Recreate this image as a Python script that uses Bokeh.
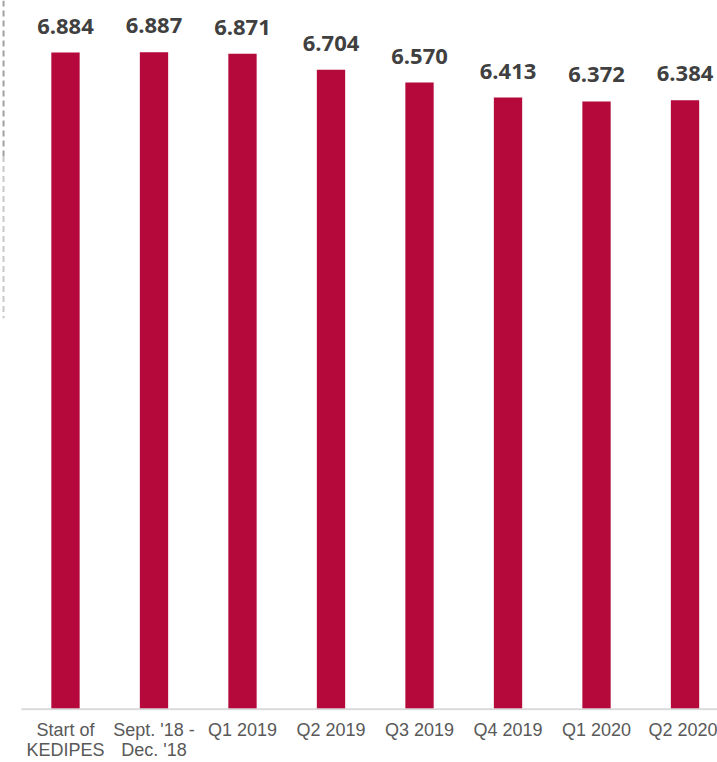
from bokeh.plotting import figure
from bokeh.models import Range1d, FixedTicker, ColumnDataSource, LabelSet
from bokeh.core.properties import value
from bokeh.embed import file_html
from bokeh.resources import INLINE

categories = ["Start of\nKEDIPES", "Sept. '18 -\nDec. '18", "Q1 2019", "Q2 2019",
              "Q3 2019", "Q4 2019", "Q1 2020", "Q2 2020"]
values = [6.884, 6.887, 6.871, 6.704, 6.570, 6.413, 6.372, 6.384]
value_labels = ["6.884", "6.887", "6.871", "6.704", "6.570", "6.413", "6.372", "6.384"]

xs = list(range(len(categories)))
src = ColumnDataSource(dict(x=xs, top=values, lab=value_labels))

p = figure(width=717, height=762, output_backend="svg", toolbar_location=None,
           x_range=Range1d(-0.723, 7.367), y_range=Range1d(-0.012, 7.43),
           min_border_left=1, min_border_right=0, min_border_top=0, min_border_bottom=52)
p.grid.visible = False
p.outline_line_color = None
p.yaxis.visible = False

p.vbar(x="x", top="top", width=0.32, bottom=0, source=src,
       fill_color="#B5093B", line_color=None)

# baseline
p.segment(x0=[-0.5], x1=[7.5], y0=[0], y1=[0], line_color="#D9D9D9", line_width=2)

# dashed separator on the left
p.segment(x0=[-0.7], x1=[-0.7], y0=[7.43], y1=[5.8], line_color="#A0A0A0",
          line_width=2, line_dash="6 4")
p.segment(x0=[-0.7], x1=[-0.7], y0=[5.8], y1=[4.1], line_color="#C8C8C8",
          line_width=2, line_dash="6 4")

labels = LabelSet(x="x", y="top", text="lab", source=src, y_offset=19,
                  text_align="center", text_baseline="alphabetic",
                  text_font=value("Open Sans"), text_font_style="bold",
                  text_font_size="22px", text_color="#404040")
p.add_layout(labels)

ax = p.xaxis[0]
ax.ticker = FixedTicker(ticks=xs)
ax.major_label_overrides = {i: c for i, c in enumerate(categories)}
ax.axis_line_color = None
ax.major_tick_line_color = None
ax.minor_tick_line_color = None
ax.major_label_standoff = 3
ax.major_label_text_line_height = 1.0
ax.major_label_text_font = "Liberation Sans"
ax.major_label_text_font_size = "18px"
ax.major_label_text_color = "#595959"

open("out.html", "w").write(file_html(p, INLINE))
